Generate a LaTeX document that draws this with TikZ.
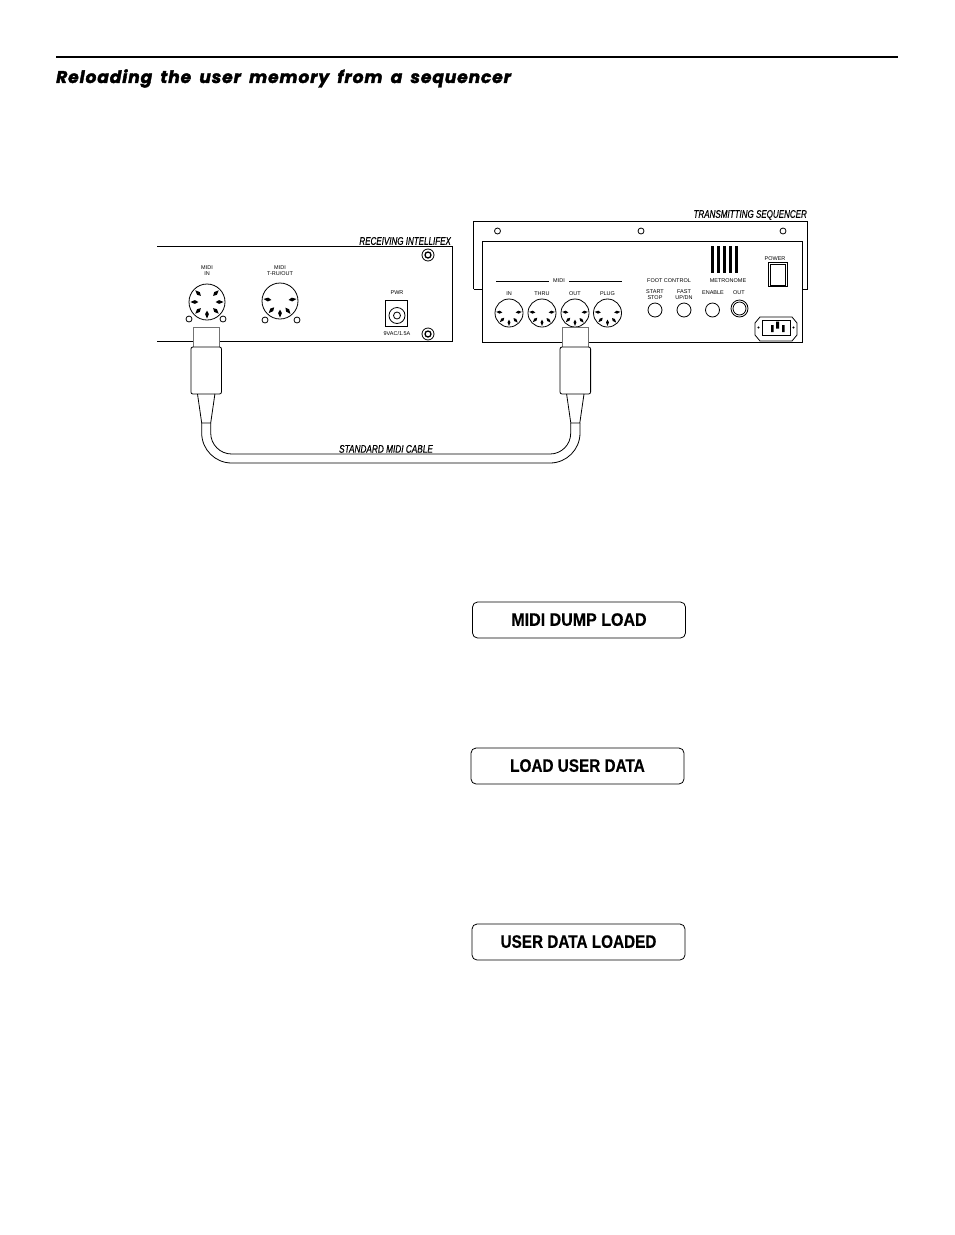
\documentclass[tikz,border=0pt]{standalone}
\usepackage{fontspec}
\setmainfont{Liberation Sans}
\newfontfamily\titlefont[LetterSpace=5.5,WordSpace=1.7,FakeBold=2.2]{Poppins}
\newfontfamily\lcdfont[FakeBold=0.6]{Liberation Sans}
\newfontfamily\handfont[FakeBold=0.5]{Liberation Sans}
\usepackage{tikz}
\usetikzlibrary{arrows,calc}

% one round socket: centre, radius, list of pin angles
\newcommand{\dinsocket}[4]{
  \draw[thin_line] (#1,#2) circle (#3);
  \foreach \pinangle in {#4}
    \fill ($(#1,#2)+(\pinangle:#3*0.48)$) -- ($(#1,#2)+(\pinangle+9:#3*0.68)$) -- ($(#1,#2)+(\pinangle:#3*0.92)$) -- ($(#1,#2)+(\pinangle-9:#3*0.68)$) -- cycle;
}
\newcommand{\lcdtext}[2]{\raisebox{1pt}{\scalebox{#1}[1]{#2}}}

\begin{document}
\begin{tikzpicture}[x=1pt,y=-1pt,
    thin_line/.style={line width=0.8pt},
    panel_line/.style={line width=1pt},
    tiny_label/.style={font=\fontsize{5.5}{6}\selectfont,align=center,inner sep=0pt},
    hand_label/.style={font=\handfont\fontsize{11}{12}\itshape\selectfont,inner sep=0pt},
    display_box/.style={draw,line width=0.8pt,rounded corners=5pt,minimum width=213pt,minimum height=36pt,inner sep=0pt,font=\lcdfont\fontsize{18}{20}\bfseries\selectfont},
    plug_head/.style={draw=black!55,fill=white,line width=1pt}]

    \useasboundingbox (0,0) rectangle (954,1235);

    % heading
    \draw[line width=2pt] (56,57) -- (898,57);
    \node[anchor=west,inner sep=0pt] (title) at (56,78.5) {\titlefont\fontsize{17}{18}\bfseries\itshape\selectfont Reloading the user memory from a sequencer};

    % receiving unit
    \draw[panel_line] (157,246) -- (452,246) -- (452,341) -- (157,341);
    \node[hand_label,anchor=east,xscale=0.73] (rxlabel) at (451,241) {RECEIVING INTELLIFEX};
    \node[tiny_label] (midiin) at (207,271) {MIDI\\IN};
    \node[tiny_label] (midithru) at (280,271) {MIDI\\T-RU/OUT};
    \dinsocket{207}{302}{18}{-135,-45,180,0,135,90,45}
    \dinsocket{280}{301}{18}{187,133,90,51,-7}
    \foreach \holex/\holey in {189/319,223/319,265/320,297/320}
      \draw[thin_line] (\holex,\holey) circle (3);
    \foreach \jacky in {255,334}{
      \draw[thin_line] (428,\jacky) circle (6);
      \draw[line width=1.3pt] (428,\jacky) circle (3);
    }
    \draw[panel_line] (385.5,300) rectangle (407.5,326);
    \draw[thin_line] (397,315.5) circle (8);
    \draw[thin_line] (397,315.5) circle (3.5);
    \node[tiny_label] (pwr) at (397,293) {PWR};
    \node[tiny_label] (vac) at (397,334) {9VAC/1.5A};

    % transmitting unit
    \draw[panel_line] (473.5,289) -- (473.5,221) -- (807.5,221) -- (807.5,289);
    \draw[panel_line] (473.5,289) -- (482,289);
    \draw[panel_line] (802,289) -- (807.5,289);
    \draw[panel_line] (482,241) rectangle (802,342);
    \node[hand_label,anchor=east,xscale=0.73] (txlabel) at (807,215) {TRANSMITTING SEQUENCER};
    \foreach \screwx in {497.5,641,783}
      \draw[thin_line] (\screwx,231) circle (3);

    \draw[thin_line] (496,281) -- (549,281);
    \draw[thin_line] (569,281) -- (622,281);
    \node[tiny_label] (midi) at (559,281) {MIDI};
    \foreach \sockx/\sockname in {509/IN,542/THRU,575/OUT,607.5/PLUG}{
      \dinsocket{\sockx}{313}{14}{185,135,90,48,-5}
      \node[tiny_label] at (\sockx,294) {\sockname};
    }
    \node[tiny_label] (foot) at (669,281) {FOOT CONTROL};
    \node[tiny_label] (start) at (655,295) {START\\STOP};
    \node[tiny_label] (fast) at (684,295) {FAST\\UP/DN};
    \node[tiny_label] (metro) at (728,281) {METRONOME};
    \node[tiny_label] (enable) at (713,293) {ENABLE};
    \node[tiny_label] (out) at (739,293) {OUT};
    \draw[thin_line] (655,310) circle (7);
    \draw[thin_line] (684,310) circle (7);
    \draw[thin_line] (712.5,310) circle (7);
    \draw[thin_line] (739.5,308.5) circle (8.5);
    \draw[thin_line] (739.5,308.5) circle (6.5);
    \foreach \slotx in {710.5,716.5,722.5,728.5,734.5}
      \fill (\slotx,246) rectangle ++(3.6,27);
    \node[tiny_label] (power) at (775,259) {POWER};
    \draw[panel_line] (768,262) rectangle (787,286);
    \draw[thin_line] (770,264) rectangle (785,285);
    \draw[thin_line] (760,317) -- (792,317) -- (797,323) -- (797,335) -- (792,341) -- (760,341) -- (755,335) -- (755,323) -- cycle;
    \draw[panel_line] (762.5,320) rectangle (790,335);
    \fill (771,325) rectangle ++(2.5,7) (776,321.5) rectangle ++(3,7) (782,325) rectangle ++(2.5,7);
    \fill (758.5,327.5) circle (1.2) (793.5,327.5) circle (1.2);

    % cable
    \draw[thin_line] (201.7,423) -- (201.7,433) arc (180:90:30) -- (550,463) arc (90:0:30) -- (580,423);
    \draw[thin_line] (210.7,423) -- (210.7,433) arc (180:90:21) -- (550,454) arc (90:0:20.7) -- (570.7,423);
    \node[hand_label,anchor=south,xscale=0.75,inner sep=1pt] (cable) at (386,454) {STANDARD MIDI CABLE};

    % plugs
    \foreach \plugx in {206.2,575.3}{
      \draw[plug_head] (\plugx-12.8,327) rectangle (\plugx+12.8,347);
      \draw[thin_line,fill=white,rounded corners=2pt] (\plugx-15.3,347) rectangle (\plugx+15.3,394);
      \draw[thin_line] (\plugx-8.7,394) -- (\plugx-4.5,423) -- (\plugx+4.5,423) -- (\plugx+8.7,394);
    }

    % display messages
    \node[display_box] (dump) at (579,620) {\lcdtext{0.89}{MIDI DUMP LOAD}};
    \node[display_box] (load) at (577.5,766) {\lcdtext{0.85}{LOAD USER DATA}};
    \node[display_box] (loaded) at (578.5,942) {\lcdtext{0.85}{USER DATA LOADED}};

\end{tikzpicture}
\end{document}
